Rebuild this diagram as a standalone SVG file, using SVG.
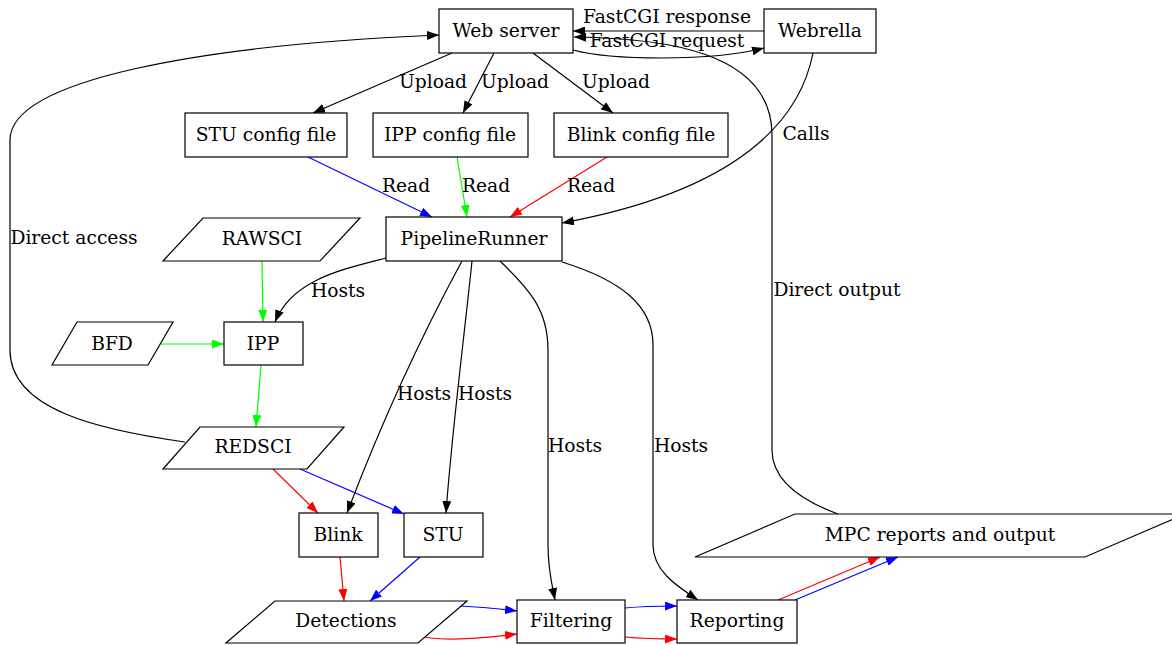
<svg xmlns="http://www.w3.org/2000/svg" width="1172" height="645" viewBox="0 0 1172 645">
<style>
  .n rect, .n polygon { fill: #fff; stroke: #000; stroke-width: 1.2; }
  text { font-family: "DejaVu Serif", "Liberation Serif", serif; font-size: 18.7px; fill: #000; text-anchor: middle; }
  .e path { fill: none; stroke-width: 1.2; }
  .k { stroke: #000; marker-end: url(#ak); }
  .b { stroke: #0000ff; marker-end: url(#ab); }
  .r { stroke: #ff0000; marker-end: url(#ar); }
  .g { stroke: #00ff00; marker-end: url(#ag); }
</style>
<defs>
  <marker id="ak" viewBox="0 0 12 9" refX="12" refY="4.5" markerWidth="12" markerHeight="9" markerUnits="userSpaceOnUse" orient="auto"><path d="M0,0 L12,4.5 L0,9 z" fill="#000"/></marker>
  <marker id="ab" viewBox="0 0 12 9" refX="12" refY="4.5" markerWidth="12" markerHeight="9" markerUnits="userSpaceOnUse" orient="auto"><path d="M0,0 L12,4.5 L0,9 z" fill="#0000ff"/></marker>
  <marker id="ar" viewBox="0 0 12 9" refX="12" refY="4.5" markerWidth="12" markerHeight="9" markerUnits="userSpaceOnUse" orient="auto"><path d="M0,0 L12,4.5 L0,9 z" fill="#ff0000"/></marker>
  <marker id="ag" viewBox="0 0 12 9" refX="12" refY="4.5" markerWidth="12" markerHeight="9" markerUnits="userSpaceOnUse" orient="auto"><path d="M0,0 L12,4.5 L0,9 z" fill="#00ff00"/></marker>
</defs>
<rect width="1172" height="645" fill="#fff"/>
<g id="connectors" class="e">
  <path class="k" d="M764,31 L573,31"/>
  <text x="667" y="23">FastCGI response</text>
  <path class="k" d="M573,50 C610,60 710,62 764,48"/>
  <text x="667" y="47">FastCGI request</text>
  <path class="k" d="M452,53 L313,113"/>
  <text x="433" y="88">Upload</text>
  <path class="k" d="M494,53 L463,113"/>
  <text x="515" y="88">Upload</text>
  <path class="k" d="M533,53 L613,113"/>
  <text x="616" y="88">Upload</text>
  <path class="k" d="M813,53 C800,120 740,190 562,223"/>
  <text x="806" y="140">Calls</text>
  <path class="b" d="M308,157 L432,217"/>
  <text x="406" y="192">Read</text>
  <path class="g" d="M457,157 L467,217"/>
  <text x="486" y="192">Read</text>
  <path class="r" d="M607,157 L510,217"/>
  <text x="591" y="192">Read</text>
  <path class="k" d="M386,258 C340,270 292,280 275,322"/>
  <text x="338" y="297">Hosts</text>
  <path class="k" d="M462,261 C430,320 390,400 347,513"/>
  <text x="424" y="400">Hosts</text>
  <path class="k" d="M472,261 C465,330 452,430 446,513"/>
  <text x="485" y="400">Hosts</text>
  <path class="k" d="M500,261 C530,290 548,310 548,350 L548,545 C548,570 552,585 555,600"/>
  <text x="575" y="452">Hosts</text>
  <path class="k" d="M562,262 C620,280 653,305 653,345 L653,545 C653,570 675,585 698,600"/>
  <text x="681" y="452">Hosts</text>
  <path class="g" d="M262,261 L263,322"/>
  <path class="g" d="M161,344 L224,344"/>
  <path class="g" d="M261,365 L256,427"/>
  <path class="k" d="M185,442 C100,430 10,410 10,350 L10,140 C10,80 200,45 439,35"/>
  <text x="74" y="244">Direct access</text>
  <path class="r" d="M273,469 L318,513"/>
  <path class="b" d="M300,469 L404,514"/>
  <path class="r" d="M340,557 L344,601"/>
  <path class="b" d="M420,557 L370,601"/>
  <path class="b" d="M460,606 C480,607 500,609 517,611"/>
  <path class="r" d="M425,637 C450,642 490,637 517,634"/>
  <path class="b" d="M625,608 C645,606 660,606 677,606"/>
  <path class="r" d="M625,637 C645,639 660,639 677,639"/>
  <path class="r" d="M778,600 L880,557"/>
  <path class="b" d="M795,600 L898,557"/>
  <path class="k" d="M838,514 C800,500 772,480 772,450 L772,135 C772,50 660,38 574,37"/>
  <text x="837" y="296">Direct output</text>
</g>
<g id="web" class="n"><rect x="439" y="9" width="134" height="44"/><text x="506" y="37">Web server</text></g>
<g id="webrella" class="n"><rect x="764" y="9" width="112" height="44"/><text x="820" y="37">Webrella</text></g>
<g id="stucfg" class="n"><rect x="185" y="113" width="162" height="44"/><text x="266" y="141">STU config file</text></g>
<g id="ippcfg" class="n"><rect x="373" y="113" width="155" height="44"/><text x="450" y="141">IPP config file</text></g>
<g id="blinkcfg" class="n"><rect x="554" y="113" width="174" height="44"/><text x="641" y="141">Blink config file</text></g>
<g id="pipeline" class="n"><rect x="386" y="217" width="176" height="44"/><text x="474" y="245">PipelineRunner</text></g>
<g id="rawsci" class="n"><polygon points="203,218 360,218 320,261 163,261"/><text x="262" y="245">RAWSCI</text></g>
<g id="bfd" class="n"><polygon points="77,322 173,322 148,365 52,365"/><text x="112" y="350">BFD</text></g>
<g id="ipp" class="n"><rect x="224" y="322" width="79" height="43"/><text x="263" y="350">IPP</text></g>
<g id="redsci" class="n"><polygon points="200,427 344,427 307,469 163,469"/><text x="253" y="453">REDSCI</text></g>
<g id="blink" class="n"><rect x="299" y="513" width="79" height="44"/><text x="338" y="541">Blink</text></g>
<g id="stu" class="n"><rect x="404" y="513" width="79" height="44"/><text x="443" y="541">STU</text></g>
<g id="detections" class="n"><polygon points="275,601 467,601 418,643 226,643"/><text x="346" y="627">Detections</text></g>
<g id="filtering" class="n"><rect x="517" y="600" width="108" height="43"/><text x="571" y="627">Filtering</text></g>
<g id="reporting" class="n"><rect x="677" y="600" width="120" height="43"/><text x="737" y="627">Reporting</text></g>
<g id="mpc" class="n"><polygon points="795,514 1185,514 1085,557 695,557"/><text x="940" y="541">MPC reports and output</text></g>
</svg>
